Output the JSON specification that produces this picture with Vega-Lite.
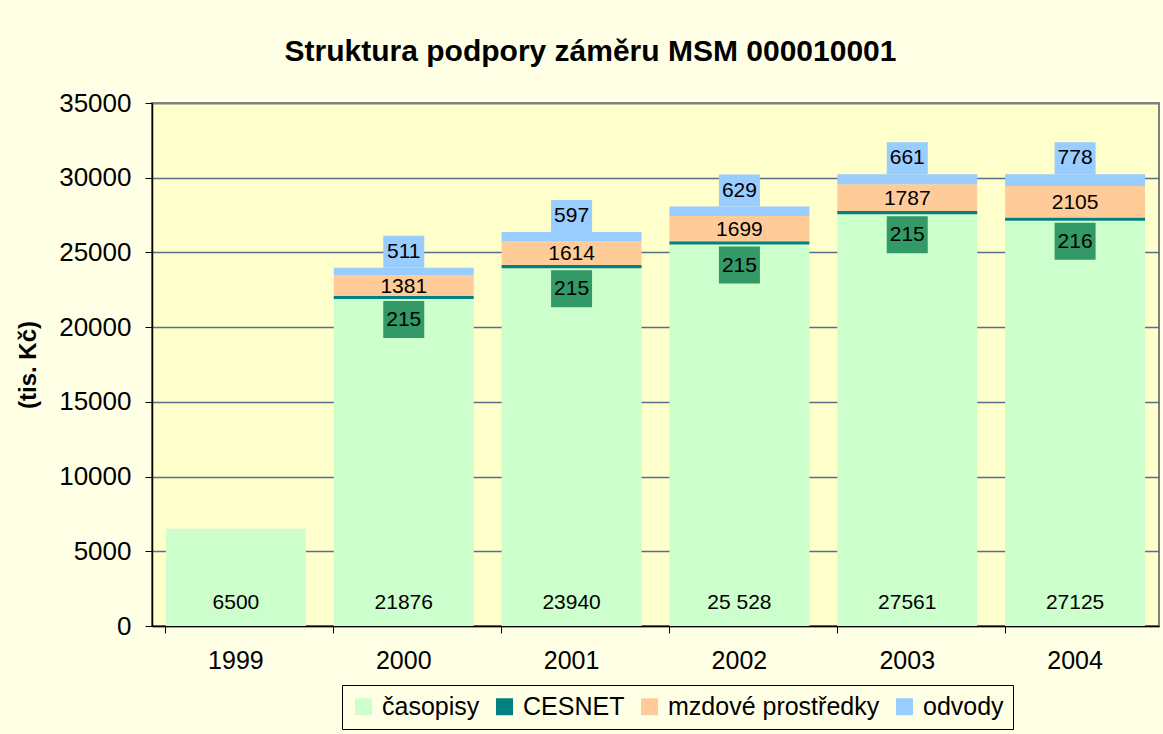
{
  "$schema": "https://vega.github.io/schema/vega-lite/v6.json",
  "width": 1007,
  "height": 523,
  "autosize": {"type": "none"},
  "padding": {"left": 152, "top": 103, "right": 4, "bottom": 108},
  "background": "#FFFFE5",
  "title": {
    "text": "Struktura podpory záměru MSM 000010001",
    "fontSize": 30,
    "fontWeight": "bold",
    "color": "#000000",
    "anchor": "middle",
    "frame": "group",
    "dx": -65,
    "dy": 29,
    "baseline": "alphabetic",
    "offset": 28
  },
  "config": {
    "font": "Liberation Sans, Arial, sans-serif",
    "view": {"fill": "#FFFFCC", "stroke": "#808080", "strokeWidth": 2}
  },
  "datasets": {
    "rows": [
      {"year": "1999", "series": "časopisy", "value": 6500, "label": "6500", "order": 1},
      {"year": "2000", "series": "časopisy", "value": 21876, "label": "21876", "order": 1},
      {"year": "2000", "series": "CESNET", "value": 215, "label": "215", "order": 2},
      {"year": "2000", "series": "mzdové prostředky", "value": 1381, "label": "1381", "order": 3},
      {"year": "2000", "series": "odvody", "value": 511, "label": "511", "order": 4},
      {"year": "2001", "series": "časopisy", "value": 23940, "label": "23940", "order": 1},
      {"year": "2001", "series": "CESNET", "value": 215, "label": "215", "order": 2},
      {"year": "2001", "series": "mzdové prostředky", "value": 1614, "label": "1614", "order": 3},
      {"year": "2001", "series": "odvody", "value": 597, "label": "597", "order": 4},
      {"year": "2002", "series": "časopisy", "value": 25528, "label": "25 528", "order": 1},
      {"year": "2002", "series": "CESNET", "value": 215, "label": "215", "order": 2},
      {"year": "2002", "series": "mzdové prostředky", "value": 1699, "label": "1699", "order": 3},
      {"year": "2002", "series": "odvody", "value": 629, "label": "629", "order": 4},
      {"year": "2003", "series": "časopisy", "value": 27561, "label": "27561", "order": 1},
      {"year": "2003", "series": "CESNET", "value": 215, "label": "215", "order": 2},
      {"year": "2003", "series": "mzdové prostředky", "value": 1787, "label": "1787", "order": 3},
      {"year": "2003", "series": "odvody", "value": 661, "label": "661", "order": 4},
      {"year": "2004", "series": "časopisy", "value": 27125, "label": "27125", "order": 1},
      {"year": "2004", "series": "CESNET", "value": 216, "label": "216", "order": 2},
      {"year": "2004", "series": "mzdové prostředky", "value": 2105, "label": "2105", "order": 3},
      {"year": "2004", "series": "odvody", "value": 778, "label": "778", "order": 4}
    ]
  },
  "data": {"name": "rows"},
  "transform": [
    {"stack": "value", "groupby": ["year"], "sort": [{"field": "order", "order": "ascending"}], "as": ["v0", "v1"]}
  ],
  "encoding": {
    "x": {
      "field": "year",
      "type": "nominal",
      "sort": null,
      "scale": {"paddingInner": 0.166, "paddingOuter": 0.083},
      "axis": {
        "title": null,
        "labelAngle": 0,
        "labelFontSize": 25,
        "labelColor": "#000000",
        "labelPadding": 15,
        "bandPosition": 0,
        "tickColor": "#000000",
        "tickSize": 7,
        "domainColor": "#000000",
        "domainWidth": 1.5,
        "grid": false
      }
    }
  },
  "layer": [
    {
      "mark": {"type": "bar"},
      "encoding": {
        "y": {
          "field": "v1",
          "type": "quantitative",
          "scale": {"domain": [0, 35000], "nice": false},
          "axis": {
            "title": "(tis. Kč)",
            "titleFontSize": 24,
            "titleFontWeight": "bold",
            "titleColor": "#000000",
            "titlePadding": 18,
            "values": [0, 5000, 10000, 15000, 20000, 25000, 30000, 35000],
            "format": "d",
            "labelFontSize": 26,
            "labelColor": "#000000",
            "labelPadding": 14,
            "tickColor": "#000000",
            "tickSize": 7,
            "domainColor": "#000000",
            "domainWidth": 1.5,
            "grid": true,
            "gridColor": {"condition": {"test": "datum.value >= 35000", "value": "#808080"}, "value": "#56708C"},
            "gridWidth": {"condition": {"test": "datum.value >= 35000", "value": 2}, "value": 1.3}
          }
        },
        "y2": {"field": "v0"},
        "color": {
          "field": "series",
          "type": "nominal",
          "scale": {
            "domain": ["časopisy", "CESNET", "mzdové prostředky", "odvody"],
            "range": ["#CCFFCC", "#008080", "#FFCC99", "#99CCFF"]
          },
          "legend": {
            "title": null,
            "orient": "none",
            "legendX": 190,
            "legendY": 582,
            "direction": "horizontal",
            "symbolType": "square",
            "symbolSize": 289,
            "symbolStrokeWidth": 0,
            "symbolOpacity": 1,
            "labelFontSize": 25,
            "labelLimit": 400,
            "labelColor": "#000000",
            "labelOffset": 6,
            "columnPadding": 12,
            "strokeColor": "#000000",
            "fillColor": "#FFFFE5",
            "padding": 9
          }
        }
      }
    },
    {
      "transform": [{"filter": "datum.series === 'časopisy'"}],
      "mark": {"type": "text", "fontSize": 21, "color": "#000000", "baseline": "middle", "dy": -23},
      "encoding": {
        "y": {"datum": 0, "type": "quantitative"},
        "text": {"field": "label"}
      }
    },
    {
      "transform": [{"filter": "datum.series === 'CESNET'"}],
      "mark": {"type": "bar", "color": "#339966", "size": 41, "yOffset": 2, "y2Offset": 39},
      "encoding": {
        "y": {"field": "v0", "type": "quantitative"},
        "y2": {"field": "v0"}
      }
    },
    {
      "transform": [{"filter": "datum.series === 'CESNET'"}],
      "mark": {"type": "text", "fontSize": 21, "color": "#000000", "baseline": "middle", "dy": 21},
      "encoding": {
        "y": {"field": "v0", "type": "quantitative"},
        "text": {"field": "label"}
      }
    },
    {
      "transform": [
        {"filter": "datum.series === 'mzdové prostředky'"},
        {"fold": ["v0", "v1"], "as": ["k", "pos"]}
      ],
      "mark": {"type": "text", "fontSize": 21, "color": "#000000", "baseline": "middle", "dy": 1},
      "encoding": {
        "y": {"aggregate": "mean", "field": "pos", "type": "quantitative"},
        "text": {"field": "label"}
      }
    },
    {
      "transform": [{"filter": "datum.series === 'odvody'"}],
      "mark": {"type": "bar", "color": "#99CCFF", "size": 41, "yOffset": -32, "y2Offset": 0},
      "encoding": {
        "y": {"field": "v1", "type": "quantitative"},
        "y2": {"field": "v1"}
      }
    },
    {
      "transform": [{"filter": "datum.series === 'odvody'"}],
      "mark": {"type": "text", "fontSize": 21, "color": "#000000", "baseline": "middle", "dy": -16},
      "encoding": {
        "y": {"field": "v1", "type": "quantitative"},
        "text": {"field": "label"}
      }
    }
  ]
}
